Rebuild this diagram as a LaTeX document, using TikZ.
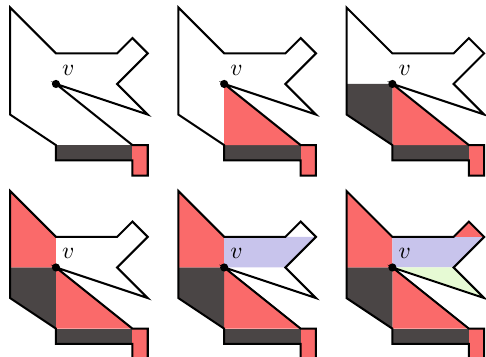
\documentclass[tikz,border=0pt]{standalone}
\usepackage{tikz}
\definecolor{wred}{RGB}{250,106,106}
\definecolor{wdark}{RGB}{74,69,69}
\definecolor{wlav}{RGB}{200,196,236}
\definecolor{wgreen}{RGB}{230,250,212}
\tikzset{
  outline/.style={draw=black,line width=0.95pt,fill=none},
  vdot/.style={circle,fill=black,inner sep=0pt,minimum size=3.8pt},
  vlabel/.style={inner sep=0pt,font=\fontsize{11}{13}\selectfont}
}
\newcommand\wallpoly{(-3,5) -- (0,2) -- (4,2) -- (5,3) -- (6,2) -- (4,0) -- (6,-2) -- (0,0) -- (5,-4) -- (6,-4) -- (6,-6) -- (5,-6) -- (5,-5) -- (0,-5) -- (0,-4) -- (-3,-2) -- cycle}
\begin{document}
\begin{tikzpicture}[x=0.25cm,y=0.25cm]
\useasboundingbox (-3.66,-17.84) rectangle (28.12,5.49);
\clip (-3.66,-17.84) rectangle (28.12,5.49);
\foreach \i/\dx/\dy in {1/0/0,2/11/0,3/22/0,4/0/-12,5/11/-12,6/22/-12}{
  \begin{scope}[shift={(\dx,\dy)}]
    \fill[wdark] (0,-5) rectangle (5,-4);
    \fill[wred] (5,-6) rectangle (6,-4);
    \ifnum\i>1 \fill[wred] (0,0) -- (0,-4) -- (5,-4) -- cycle; \fi
    \ifnum\i>2 \fill[wdark] (-3,0) -- (0,0) -- (0,-4) -- (-3,-2) -- cycle; \fi
    \ifnum\i>3 \fill[wred] (-3,5) -- (0,2) -- (0,0) -- (-3,0) -- cycle; \fi
    \ifnum\i>4 \fill[wlav] (0,0) -- (0,2) -- (6,2) -- (4,0) -- cycle; \fi
    \ifnum\i>5
      \fill[wgreen] (0,0) -- (4,0) -- (6,-2) -- cycle;
      \fill[wred] (4,2) -- (5,3) -- (6,2) -- cycle;
    \fi
    \draw[outline] \wallpoly;
    \node[vdot] (dot\i) at (0,0) {};
    \node[vlabel] (v\i) at (0.8,0.9) {$v$};
  \end{scope}
}
\end{tikzpicture}
\end{document}
